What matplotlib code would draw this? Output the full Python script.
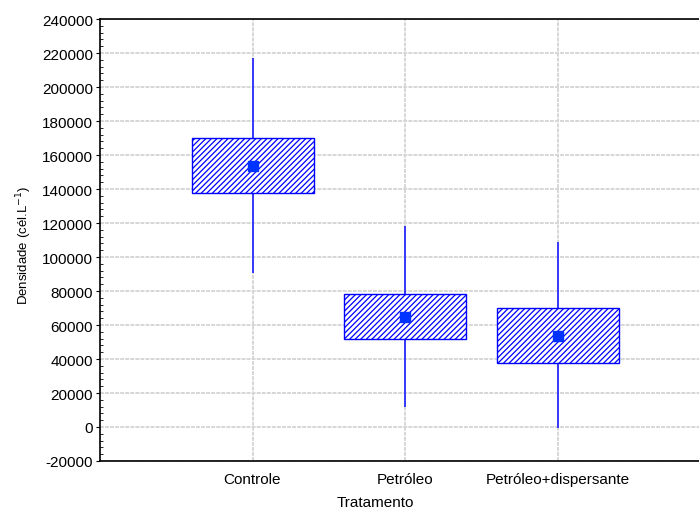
import matplotlib
matplotlib.use("Agg")
import matplotlib.pyplot as plt
from matplotlib.ticker import MultipleLocator

categories = ['Controle', 'Petróleo', 'Petróleo+dispersante']
means = [153500, 64700, 53500]
box_low = [137700, 51800, 37500]
box_high = [170200, 78300, 70200]
whisk_low = [90600, 11800, -500]
whisk_high = [217000, 118400, 108800]
yticks = list(range(-20000, 240001, 20000))

plt.rcParams['font.family'] = ['Liberation Sans', 'DejaVu Sans']
plt.rcParams['hatch.color'] = '#0000ff'
plt.rcParams['hatch.linewidth'] = 0.9

fig = plt.figure(figsize=(6.99, 5.10), dpi=100)
ax = fig.add_axes([100/699, 48/510, 1 - 100/699, 442/510])

xs = [1, 2, 3]
blue = '#0000ff'
for x, lo, hi in zip(xs, whisk_low, whisk_high):
    ax.plot([x, x], [lo, hi], color='#2a2aff', lw=1.3, zorder=2, solid_capstyle='butt')
heights = [h - l for h, l in zip(box_high, box_low)]
ax.bar(xs, heights, bottom=box_low, width=0.8, facecolor='white', edgecolor=blue,
       hatch='//////', linewidth=1.0, zorder=3)
ax.plot(xs, means, linestyle='none', marker='s', markersize=7.5, color='#0033ff', zorder=4)

ax.set_xlim(0, 599/152.5)
ax.set_ylim(-20000, 240000)
ax.set_xticks(xs)
ax.set_xticklabels(categories, fontsize=11)
ax.set_yticks(yticks)
ax.set_yticklabels([str(v) for v in yticks], fontsize=11)
ax.yaxis.set_minor_locator(MultipleLocator(4000))
ax.tick_params(axis='y', which='major', direction='out', length=3, width=0.8, pad=2)
ax.tick_params(axis='y', which='minor', direction='in', length=2, width=0.6)
ax.tick_params(axis='x', which='major', length=0, pad=8)

ax.grid(True, which='major', color='#d6d6d6', lw=1.4, linestyle=(0, (2, 0.6)), zorder=0)
ax.set_axisbelow(True)

ax.spines['right'].set_visible(False)
for s in ['left', 'top', 'bottom']:
    ax.spines[s].set_linewidth(1.2)

ax.set_xlabel('Tratamento', fontsize=11)
ax.xaxis.set_label_coords((375-100)/599, -0.077)
ax.set_ylabel('Densidade (cél.L$^{-1}$)', fontsize=9.5)
ax.yaxis.set_label_coords(-0.110, 0.49)

fig.savefig('out.png', dpi=100)
